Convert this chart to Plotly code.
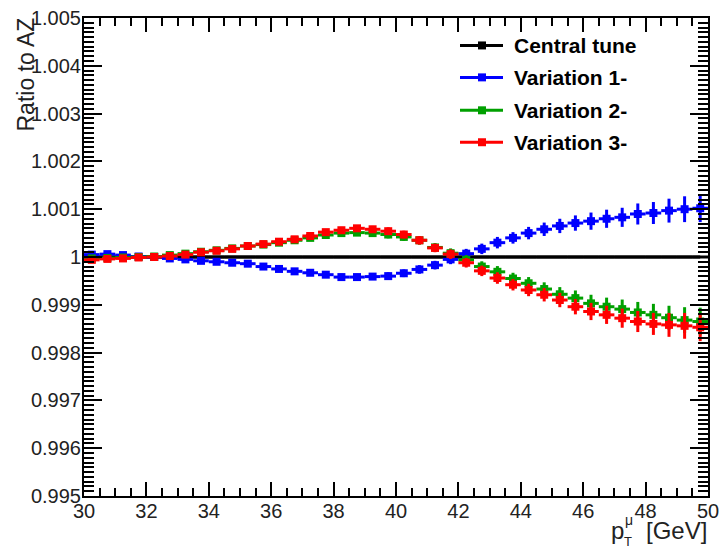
import plotly.graph_objects as go

# Muon pT bins (GeV): centres of 0.5 GeV wide bins from 30 to 50
pt_centers = [30.25 + 0.5 * i for i in range(40)]
bin_half_width = [0.25] * 40

# Ratio of each tune to AZ (deviation from 1)
central_tune = [1.0] * 40

var1_dev = [0.00005, 0.00006, 0.00004, 0.00001, 0.00000, -0.00003, -0.00005, -0.00008, -0.00010, -0.00012,
            -0.00014, -0.00020, -0.00025, -0.00030, -0.00033, -0.00037, -0.00042, -0.00042, -0.00041, -0.00040,
            -0.00034, -0.00026, -0.00017, -0.00005, 0.00007, 0.00017, 0.00030, 0.00040, 0.00050, 0.00058,
            0.00065, 0.00071, 0.00075, 0.00080, 0.00083, 0.00090, 0.00092, 0.00097, 0.00100, 0.00102]

var2_dev = [-0.00003, -0.00002, -0.00001, 0.00000, 0.00001, 0.00004, 0.00007, 0.00011, 0.00014, 0.00018,
            0.00023, 0.00026, 0.00030, 0.00035, 0.00040, 0.00046, 0.00050, 0.00051, 0.00050, 0.00047,
            0.00042, 0.00035, 0.00020, 0.00008, -0.00006, -0.00020, -0.00031, -0.00045, -0.00055, -0.00067,
            -0.00078, -0.00086, -0.00097, -0.00104, -0.00109, -0.00116, -0.00121, -0.00127, -0.00132, -0.00135]

var3_dev = [-0.00006, -0.00004, -0.00003, -0.00001, 0.00000, 0.00002, 0.00005, 0.00010, 0.00013, 0.00017,
            0.00023, 0.00027, 0.00032, 0.00037, 0.00044, 0.00052, 0.00056, 0.00060, 0.00058, 0.00054,
            0.00047, 0.00035, 0.00019, 0.00006, -0.00012, -0.00029, -0.00044, -0.00058, -0.00069, -0.00079,
            -0.00090, -0.00104, -0.00114, -0.00121, -0.00128, -0.00135, -0.00140, -0.00142, -0.00144, -0.00147]

# Statistical uncertainty on the ratio
ratio_err = [0.00003, 0.00003, 0.00003, 0.00003, 0.00003, 0.00004, 0.00004, 0.00004, 0.00004, 0.00005,
             0.00005, 0.00005, 0.00005, 0.00006, 0.00006, 0.00006, 0.00007, 0.00007, 0.00007, 0.00008,
             0.00008, 0.00009, 0.00009, 0.00010, 0.00010, 0.00011, 0.00012, 0.00012, 0.00013, 0.00014,
             0.00015, 0.00016, 0.00018, 0.00019, 0.00020, 0.00022, 0.00023, 0.00025, 0.00027, 0.00029]

series_names = ["Central tune", "Variation 1-", "Variation 2-", "Variation 3-"]
series_colors = ["#000000", "#0000ff", "#00a000", "#ff0000"]

x_tick_vals = [30, 32, 34, 36, 38, 40, 42, 44, 46, 48, 50]
x_tick_text = ["30", "32", "34", "36", "38", "40", "42", "44", "46", "48", "50"]
y_tick_vals = [0.995, 0.996, 0.997, 0.998, 0.999, 1.0, 1.001, 1.002, 1.003, 1.004, 1.005]
y_tick_text = ["0.995", "0.996", "0.997", "0.998", "0.999", "1", "1.001", "1.002", "1.003", "1.004", "1.005"]

FONT = "Liberation Sans, Arial, sans-serif"
TEXT_COLOR = "#222222"

fig = go.Figure()

# Central tune: flat histogram at 1 spanning full bins
fig.add_trace(go.Scatter(
    x=pt_centers, y=central_tune, mode="lines",
    line=dict(color=series_colors[0], width=3),
    error_x=dict(type="data", array=bin_half_width, color=series_colors[0], thickness=3, width=0),
    showlegend=False, hoverinfo="skip",
))

for name, color, dev in zip(series_names[1:], series_colors[1:], [var1_dev, var2_dev, var3_dev]):
    fig.add_trace(go.Scatter(
        x=pt_centers, y=[1.0 + d for d in dev], mode="markers", name=name,
        marker=dict(symbol="square", size=8, color=color),
        error_x=dict(type="data", array=bin_half_width, color=color, thickness=3, width=0),
        error_y=dict(type="data", array=ratio_err, color=color, thickness=3, width=0),
        showlegend=False,
    ))

# Plot frame geometry in pixels (for positioning text and the key)
W, H = 723, 549
L, R, T, B = 84, 708, 17.5, 496.5


def px(xp):
    return (xp - L) / (R - L)


def py(yp):
    return (B - yp) / (B - T)


shapes = []
annotations = []

# Key: line + square marker + bold label
rows_y = [45, 77, 110, 142]
for name, color, ry in zip(series_names, series_colors, rows_y):
    shapes.append(dict(type="line", xref="paper", yref="paper",
                       x0=px(460), x1=px(503), y0=py(ry), y1=py(ry),
                       line=dict(color=color, width=3)))
    shapes.append(dict(type="rect", xref="paper", yref="paper",
                       x0=px(478), x1=px(486), y0=py(ry + 4), y1=py(ry - 4),
                       line=dict(width=0), fillcolor=color))
    annotations.append(dict(xref="paper", yref="paper", x=px(512), y=py(ry),
                            xanchor="left", yanchor="middle", showarrow=False,
                            text=name, font=dict(family=FONT, size=21, color="black", weight="bold")))

# Y-axis title, aligned with the top of the axis
annotations.append(dict(xref="paper", yref="paper", x=px(26), y=py(15),
                        xanchor="center", yanchor="top", showarrow=False, textangle=-90,
                        text="Ratio to AZ", font=dict(family=FONT, size=23, color=TEXT_COLOR)))

# X-axis title p_T^mu [GeV], right-aligned with stacked sub/superscript
annotations.append(dict(xref="paper", yref="paper", x=px(709), y=py(531),
                        xanchor="right", yanchor="middle", showarrow=False,
                        text="[GeV]", font=dict(family=FONT, size=24, color=TEXT_COLOR)))
annotations.append(dict(xref="paper", yref="paper", x=px(626), y=py(531),
                        xanchor="right", yanchor="middle", showarrow=False,
                        text="p", font=dict(family=FONT, size=24, color=TEXT_COLOR)))
annotations.append(dict(xref="paper", yref="paper", x=px(629), y=py(521),
                        xanchor="center", yanchor="middle", showarrow=False,
                        text="μ", font=dict(family=FONT, size=14, color=TEXT_COLOR)))
annotations.append(dict(xref="paper", yref="paper", x=px(628), y=py(542),
                        xanchor="center", yanchor="middle", showarrow=False,
                        text="T", font=dict(family=FONT, size=13, color=TEXT_COLOR)))

fig.update_layout(
    width=W, height=H,
    margin=dict(l=L, r=W - R, t=T, b=H - B, pad=0, autoexpand=False),
    paper_bgcolor="white", plot_bgcolor="white",
    font=dict(family=FONT, size=20, color=TEXT_COLOR),
    shapes=shapes, annotations=annotations,
    showlegend=False,
)

fig.update_xaxes(
    range=[30, 50], showgrid=False, zeroline=False, automargin=False,
    showline=True, linecolor="black", linewidth=2, mirror="ticks",
    ticks="inside", ticklen=14, tickwidth=2, tickcolor="black",
    tickvals=x_tick_vals, ticktext=x_tick_text, ticklabelstandoff=-4,
    tickfont=dict(family=FONT, size=20, color=TEXT_COLOR),
    minor=dict(dtick=0.5, ticks="inside", ticklen=8, tickwidth=2, tickcolor="black", showgrid=False),
)
fig.update_yaxes(
    range=[0.995, 1.005], showgrid=False, zeroline=False, automargin=False,
    showline=True, linecolor="black", linewidth=2, mirror="ticks",
    ticks="inside", ticklen=18, tickwidth=2, tickcolor="black",
    tickvals=y_tick_vals, ticktext=y_tick_text, ticklabelstandoff=-3,
    tickfont=dict(family=FONT, size=20, color=TEXT_COLOR),
    minor=dict(dtick=0.0001, tick0=0.995, ticks="inside", ticklen=10, tickwidth=2, tickcolor="black", showgrid=False),
)

fig.write_html("out.html")
